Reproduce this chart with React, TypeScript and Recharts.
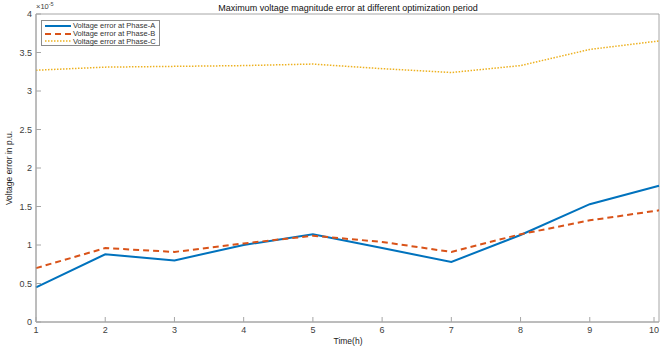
import { LineChart, Line, XAxis, YAxis, Legend, ReferenceArea } from 'recharts'

// values are in units of 1e-5 p.u., as printed on the axis
const hours = [1, 2, 3, 4, 5, 6, 7, 8, 9, 10]
const phaseA = [0.45, 0.88, 0.8, 1.0, 1.14, 0.96, 0.78, 1.13, 1.53, 1.77]
const phaseB = [0.7, 0.96, 0.91, 1.02, 1.12, 1.04, 0.91, 1.14, 1.32, 1.45]
const phaseC = [3.27, 3.31, 3.32, 3.33, 3.35, 3.29, 3.24, 3.33, 3.54, 3.65]
const yTicks = [0, 0.5, 1, 1.5, 2, 2.5, 3, 3.5, 4]

const SERIES = [
  { key: 'a', name: 'Voltage error at Phase-A', color: '#0072BD', width: 2, dash: undefined },
  { key: 'b', name: 'Voltage error at Phase-B', color: '#D95319', width: 2, dash: '6 4' },
  { key: 'c', name: 'Voltage error at Phase-C', color: '#EDB120', width: 1.5, dash: '1.5 1.5' },
]

const FONT = '"Liberation Sans", Arial, sans-serif'
const AXIS = '#a6a6a6'
const TEXT = '#404040'

const data = hours.map((h, i) => ({ hour: h, a: phaseA[i], b: phaseB[i], c: phaseC[i] }))

function BottomTick({ x, y, payload }: any) {
  return (
    <g>
      <line x1={x} y1={y} x2={x} y2={y - 5} stroke={AXIS} />
      <text x={x} y={y + 11} textAnchor="middle" fontSize={9} fill={TEXT} fontFamily={FONT}>
        {payload.value}
      </text>
    </g>
  )
}

function TopTick({ x, y }: any) {
  return <line x1={x} y1={y} x2={x} y2={y + 5} stroke={AXIS} />
}

function LeftTick({ x, y, payload }: any) {
  return (
    <g>
      <line x1={x} y1={y} x2={x + 5} y2={y} stroke={AXIS} />
      <text x={x - 4} y={y + 3} textAnchor="end" fontSize={9} fill={TEXT} fontFamily={FONT}>
        {payload.value}
      </text>
    </g>
  )
}

function RightTick({ x, y }: any) {
  return <line x1={x} y1={y} x2={x - 5} y2={y} stroke={AXIS} />
}

function BoxLegend() {
  return (
    <div style={{ border: '1px solid #8c8c8c', background: '#fff', padding: '1px 3px 0px 3px', fontFamily: FONT, fontSize: 7.5, color: '#333' }}>
      {SERIES.map((s) => (
        <div key={s.key} style={{ display: 'flex', alignItems: 'center', height: 7.8 }}>
          <svg width={26} height={6} style={{ marginRight: 2 }}>
            <line x1={0} y1={3} x2={26} y2={3} stroke={s.color} strokeWidth={s.width} strokeDasharray={s.dash} />
          </svg>
          <span>{s.name}</span>
        </div>
      ))}
    </div>
  )
}

export default function App() {
  return (
    <div style={{ position: 'absolute', left: 0, top: 0, width: 662, height: 349, background: '#fff' }}>
      <LineChart width={662} height={349} data={data} margin={{ top: 14, right: 3, left: 0, bottom: 0 }}>
        <XAxis
          dataKey="hour"
          type="number"
          domain={[1, 10]}
          ticks={hours}
          height={27}
          stroke={AXIS}
          tickSize={0}
          tickMargin={0}
          tick={<BottomTick />}
        />
        <XAxis
          xAxisId="top"
          dataKey="hour"
          orientation="top"
          type="number"
          domain={[1, 10]}
          ticks={hours}
          height={0}
          stroke={AXIS}
          tickSize={0}
          tickMargin={0}
          tick={<TopTick />}
        />
        <YAxis
          type="number"
          domain={[0, 4]}
          ticks={yTicks}
          width={36}
          stroke={AXIS}
          tickSize={0}
          tickMargin={0}
          tick={<LeftTick />}
        />
        <YAxis
          yAxisId="right"
          orientation="right"
          type="number"
          domain={[0, 4]}
          ticks={yTicks}
          width={0}
          stroke={AXIS}
          tickSize={0}
          tickMargin={0}
          tick={<RightTick />}
        />
        <ReferenceArea x1={1} x2={10} y1={0} y2={4} fill="none" stroke={AXIS} strokeWidth={1} ifOverflow="visible" />
        <Legend
          layout="horizontal"
          verticalAlign="middle"
          align="center"
          wrapperStyle={{ left: 41, top: 20, width: 'auto' }}
          content={() => <BoxLegend />}
        />
        {SERIES.map((s) => (
          <Line
            key={s.key}
            dataKey={s.key}
            name={s.name}
            type="linear"
            stroke={s.color}
            strokeWidth={s.width}
            strokeDasharray={s.dash}
            dot={false}
            activeDot={false}
            isAnimationActive={false}
          />
        ))}
        {/* carries the top and right axes, draws nothing */}
        <Line
          xAxisId="top"
          yAxisId="right"
          dataKey="c"
          stroke="none"
          dot={false}
          activeDot={false}
          legendType="none"
          isAnimationActive={false}
        />
        <text x={348} y={11} textAnchor="middle" fontSize={9} fill="#111" fontFamily={FONT}>
          Maximum voltage magnitude error at different optimization period
        </text>
        <text x={36} y={9} fontSize={7.5} fill={TEXT} fontFamily={FONT}>
          ×10
          <tspan dy={-3} fontSize={5.5}>-5</tspan>
        </text>
        <text x={348} y={344} textAnchor="middle" fontSize={8.5} fill="#222" fontFamily={FONT}>
          Time(h)
        </text>
        <text
          x={12}
          y={168}
          textAnchor="middle"
          fontSize={8.5}
          fill="#222"
          fontFamily={FONT}
          transform="rotate(-90 12 168)"
        >
          Voltage error in p.u.
        </text>
      </LineChart>
    </div>
  )
}
